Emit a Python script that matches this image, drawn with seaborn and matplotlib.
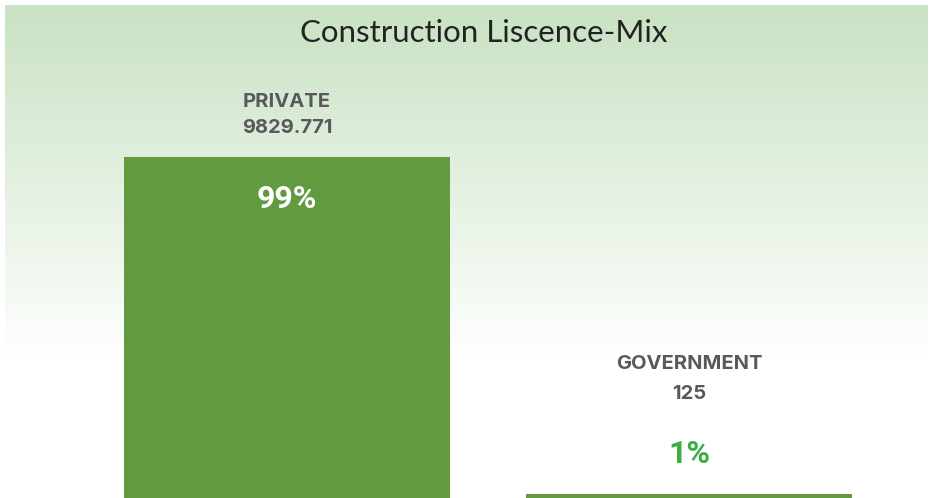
import numpy as np
import pandas as pd
import matplotlib
matplotlib.use("Agg")
import matplotlib.pyplot as plt
from matplotlib.colors import LinearSegmentedColormap
import seaborn as sns

# data
categories = ["PRIVATE", "GOVERNMENT"]
values = [9829.771, 125]
value_labels = ["9829.771", "125"]
pct_labels = ["99%", "1%"]

df = pd.DataFrame({"type": categories, "licences": values})

sns.set_theme(style="white")
plt.rcParams["font.family"] = ["Lato", "DejaVu Sans"]

fig = plt.figure(figsize=(9.33, 4.98), dpi=100)

# green fade in the background
bg = fig.add_axes([0, 0, 1, 1], zorder=0)
bg.set_xlim(0, 933)
bg.set_ylim(498, 0)
bg.axis("off")
cmap = LinearSegmentedColormap.from_list("fade", ["#c9e2c3", "#ffffff"])
grad = np.linspace(0, 1, 256).reshape(-1, 1)
bg.imshow(grad, cmap=cmap, aspect="auto", extent=(5, 928, 362, 5))

ax = fig.add_axes([0, 0, 1, 1], zorder=1)
ax.patch.set_alpha(0)
sns.barplot(data=df, x="type", y="licences", color="#629a40", width=0.81,
            saturation=1, linewidth=0, ax=ax)
ax.set_xlim(-0.714, 1.607)
ax.set_ylim(0, 14355)
ax.axis("off")

fig.text(484 / 933, 1 - 33 / 498, "Construction Liscence-Mix", ha="center", va="center",
         fontsize=22.5, color="#222222")

# label offsets (pixels above top of bar)
name_off = [55, 130]
val_off = [29, 100]
pct_off = [-42, 40]
pct_colors = ["white", "#3cae45"]

for i, v in enumerate(values):
    ax.annotate(categories[i], xy=(i, v), xytext=(0, name_off[i]), textcoords="offset pixels",
                ha="center", va="center", fontsize=14.5, fontweight="bold", color="#58595b",
                family=["Inter", "DejaVu Sans"])
    ax.annotate(value_labels[i], xy=(i, v), xytext=(0, val_off[i]), textcoords="offset pixels",
                ha="center", va="center", fontsize=14.5, fontweight="bold", color="#58595b",
                family=["Inter", "DejaVu Sans"])
    ax.annotate(pct_labels[i], xy=(i, v), xytext=(0, pct_off[i]), textcoords="offset pixels",
                ha="center", va="center", fontsize=23, fontweight="bold", color=pct_colors[i],
                family=["Roboto", "DejaVu Sans"])

fig.savefig("out.png", dpi=100)
